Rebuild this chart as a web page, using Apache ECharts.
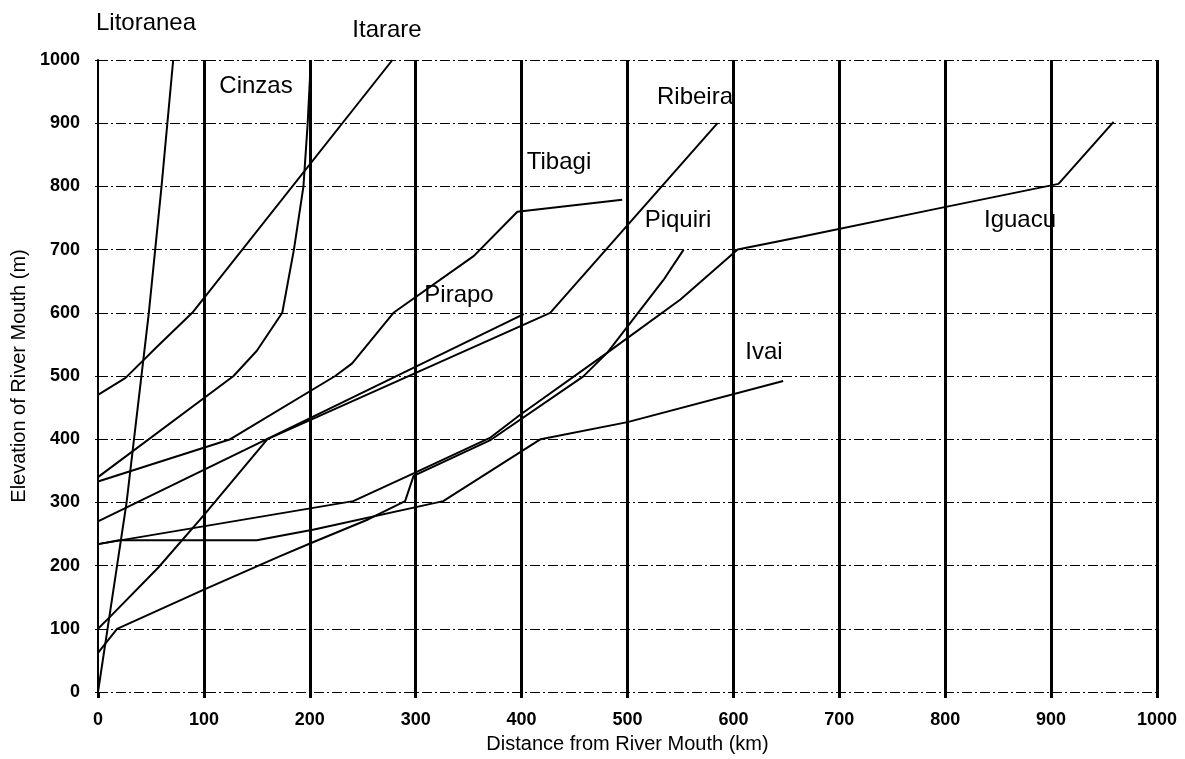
<!DOCTYPE html>
<html>
<head>
<meta charset="utf-8">
<script src="https://cdn.jsdelivr.net/npm/echarts@6/dist/echarts.min.js"></script>
<style>
html,body{margin:0;padding:0;background:#fff;}
#chart{width:1185px;height:759px;}
</style>
</head>
<body>
<div id="chart"></div>
<script>
// Tick values
const xTicks = [0, 100, 200, 300, 400, 500, 600, 700, 800, 900, 1000];
const yTicks = [0, 100, 200, 300, 400, 500, 600, 700, 800, 900, 1000];

// River profiles: [distance km, elevation m]
const litoranea = [[0,0],[9,100],[18,200],[27,300],[48,600],[60,800],[71,1000]];
const itarare   = [[0,470],[26,497],[55,545],[89,600],[278,1000]];
const cinzas    = [[0,340],[128,500],[150,540],[174,600],[185,700],[194,800],[198,900],[201,1000]];
const tibagi    = [[0,333],[125,400],[224,500],[240,520],[279,600],[355,690],[396,760],[495,779]];
const pirapo    = [[0,270],[402,598]];
const ribeira   = [[0,100],[12,120],[57,197],[100,280],[160,400],[427,600],[585,900]];
const piquiri   = [[0,62],[18,100],[100,162],[172,215],[203,237],[255,273],[290,302],[298,342],[370,398],[458,499],[481,537],[534,652],[553,700]];
const iguacu    = [[0,234],[241,302],[298,346],[370,402],[399,439],[481,537],[550,621],[604,700],[663,720],[796,766],[907,804],[959,902]];
const ivai      = [[0,234],[20,240],[150,240],[204,257],[326,302],[418,400],[500,427],[647,492]];

const riverNames = ['Litoranea','Itarare','Cinzas','Tibagi','Pirapo','Ribeira','Piquiri','Iguacu','Ivai'];
const riverData  = [litoranea, itarare, cinzas, tibagi, pirapo, ribeira, piquiri, iguacu, ivai];

// Label placements (pixel centres)
const labelPos = {
  Litoranea:[146,23], Itarare:[387,30], Cinzas:[256,86], Ribeira:[695,97],
  Tibagi:[559,162], Piquiri:[678,220], Iguacu:[1020,220], Pirapo:[459,295], Ivai:[764,352]
};

const FONT = '"Liberation Sans", Arial, sans-serif';
const chart = echarts.init(document.getElementById('chart'), null, {renderer:'canvas'});

const series = riverNames.map((n, i) => ({
  name: n, type: 'line', data: riverData[i], showSymbol: false, symbol: 'none',
  lineStyle: {color: '#000', width: 2}, animation: false, clip: false, z: 5
}));

const graphics = riverNames.map(n => ({
  type: 'text', x: labelPos[n][0], y: labelPos[n][1],
  style: {text: n, fill: '#000', font: '24px ' + FONT, textAlign: 'center', textVerticalAlign: 'middle'}
}));

chart.setOption({
  animation: false,
  backgroundColor: '#fff',
  grid: {left: 98, right: 28, top: 60, bottom: 66, containLabel: false},
  xAxis: {
    type: 'value', min: xTicks[0], max: xTicks[xTicks.length-1], interval: 100,
    name: 'Distance from River Mouth (km)', nameLocation: 'middle', nameGap: 42,
    nameTextStyle: {fontSize: 20, color: '#000', fontFamily: FONT},
    axisLine: {show: false},
    axisTick: {show: true, length: 6, lineStyle: {color: '#000', width: 3}},
    axisLabel: {fontSize: 18, fontWeight: 'bold', color: '#000', margin: 19, fontFamily: FONT,
      formatter: v => String(v)},
    splitLine: {show: true, showMinLine: false, lineStyle: {color: '#000', width: 3, type: 'solid'}}
  },
  yAxis: {
    type: 'value', min: yTicks[0], max: yTicks[yTicks.length-1], interval: 100,
    name: 'Elevation of River Mouth (m)', nameLocation: 'middle', nameGap: 68,
    nameTextStyle: {fontSize: 20, color: '#000', fontFamily: FONT},
    axisLine: {show: true, lineStyle: {color: '#000', width: 2}},
    axisTick: {show: true, length: 3, lineStyle: {color: '#000', width: 1}},
    axisLabel: {fontSize: 18, fontWeight: 'bold', color: '#000', margin: 18, fontFamily: FONT,
      formatter: v => String(v)},
    splitLine: {show: true, lineStyle: {color: '#000', width: 1, type: [10, 3, 2, 3]}}
  },
  series: series,
  graphic: graphics
});
</script>
</body>
</html>
